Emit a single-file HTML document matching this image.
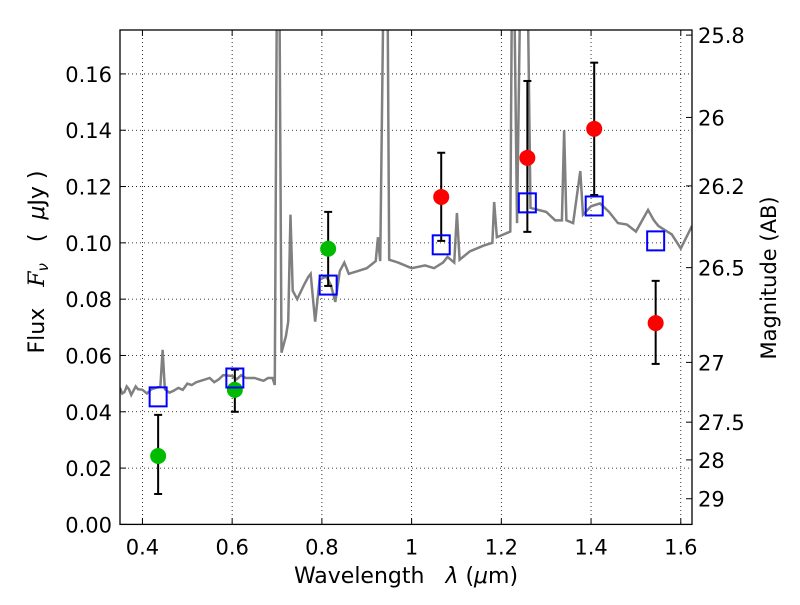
<!DOCTYPE html>
<html><head><meta charset="utf-8"><style>
body{margin:0;background:#fff}
svg text{font-family:"DejaVu Sans","Liberation Sans",sans-serif;fill:#000}
</style></head><body>
<svg id="c" width="800" height="600"></svg>
<script>
const specX=[0.35,0.355,0.36,0.365,0.37,0.375,0.38,0.385,0.39,0.40,0.41,0.42,0.43,0.44,0.445,0.45,0.46,0.47,0.48,0.49,0.50,0.51,0.52,0.53,0.55,0.56,0.57,0.58,0.60,0.61,0.62,0.63,0.65,0.66,0.67,0.68,0.69,0.695,0.700,0.705,0.71,0.72,0.725,0.73,0.735,0.745,0.76,0.77,0.775,0.785,0.795,0.81,0.82,0.83,0.84,0.85,0.86,0.88,0.90,0.92,0.925,0.93,0.938,0.942,0.946,0.95,0.97,1.0,1.03,1.05,1.07,1.08,1.095,1.101,1.107,1.13,1.16,1.18,1.184,1.19,1.22,1.224,1.228,1.235,1.243,1.25,1.258,1.265,1.30,1.32,1.335,1.34,1.345,1.36,1.376,1.382,1.40,1.42,1.44,1.46,1.48,1.50,1.527,1.54,1.55,1.58,1.60,1.625];
const specY=[0.0485,0.0465,0.047,0.049,0.048,0.046,0.0475,0.049,0.048,0.0478,0.0465,0.048,0.0485,0.049,0.062,0.048,0.0468,0.0475,0.0485,0.0478,0.050,0.0495,0.0505,0.051,0.052,0.0505,0.0515,0.053,0.0527,0.0515,0.053,0.052,0.052,0.0515,0.051,0.052,0.052,0.0495,0.2,0.2,0.061,0.067,0.072,0.110,0.083,0.080,0.085,0.088,0.089,0.072,0.087,0.088,0.085,0.079,0.090,0.093,0.089,0.090,0.091,0.0935,0.102,0.0935,0.2,0.2,0.2,0.094,0.093,0.091,0.092,0.091,0.093,0.095,0.093,0.1106,0.094,0.097,0.099,0.100,0.1145,0.102,0.104,0.2,0.2,0.107,0.2,0.2,0.2,0.1124,0.111,0.108,0.108,0.140,0.108,0.107,0.1255,0.110,0.113,0.114,0.111,0.107,0.1065,0.104,0.1117,0.108,0.106,0.103,0.098,0.106];
const bandX=[0.435,0.606,0.814,1.066,1.258,1.407,1.544];
const modelF=[0.0453,0.052,0.085,0.0993,0.1142,0.1131,0.1007];
const obsF=[0.0243,0.0478,0.0979,0.1163,0.1302,0.1405,0.0715];
const obsLo=[0.0108,0.040,0.0847,0.1007,0.1039,0.117,0.057];
const obsHi=[0.0389,0.055,0.111,0.132,0.1575,0.164,0.0865];
const obsColor=['#00bb00','#00bb00','#00bb00','#ff0000','#ff0000','#ff0000','#ff0000'];
const xTicks=[0.4,0.6,0.8,1,1.2,1.4,1.6];
const xTickLabels=['0.4','0.6','0.8','1','1.2','1.4','1.6'];
const yTicks=[0,0.02,0.04,0.06,0.08,0.10,0.12,0.14,0.16];
const yTickLabels=['0.00','0.02','0.04','0.06','0.08','0.10','0.12','0.14','0.16'];
const magTicks=[25.8,26,26.2,26.5,27,27.5,28,29];
const magTickLabels=['25.8','26','26.2','26.5','27','27.5','28','29'];

const L=120,R=692,T=30,B=524.4,X0=0.35,X1=1.625,Y0=0,Y1=0.1756;
const sx=v=>L+(v-X0)/(X1-X0)*(R-L);
const sy=v=>B-(v-Y0)/(Y1-Y0)*(B-T);
const NS='http://www.w3.org/2000/svg';
const svg=document.getElementById('c');
function mk(tag,attrs,parent){const e=document.createElementNS(NS,tag);for(const k in attrs)e.setAttribute(k,attrs[k]);(parent||svg).appendChild(e);return e;}
const defs=mk('defs',{});
const cp=mk('clipPath',{id:'clip'},defs);mk('rect',{x:L,y:T,width:R-L,height:B-T},cp);
const grid=mk('g',{});


xTicks.forEach((t,i)=>{const x=sx(t);
 mk('line',{x1:x,x2:x,y1:T,y2:B,stroke:'#000','stroke-width':0.8,'stroke-dasharray':'1,3'},grid);
 mk('line',{x1:x,x2:x,y1:B,y2:B-6,stroke:'#000'},grid);mk('line',{x1:x,x2:x,y1:T,y2:T+6,stroke:'#000'},grid);
 const tx=mk('text',{x:x,y:B+30,'font-size':21,'text-anchor':'middle'});tx.textContent=xTickLabels[i];
 
 
});
yTicks.forEach((t,i)=>{const y=sy(t);
 mk('line',{x1:L,x2:R,y1:y,y2:y,stroke:'#000','stroke-width':0.8,'stroke-dasharray':'1,3'},grid);
 mk('line',{x1:L,x2:L+6,y1:y,y2:y,stroke:'#000'},grid);
 const tx=mk('text',{x:L-8,y:y+8,'font-size':21,'text-anchor':'end'});tx.textContent=yTickLabels[i];
 
 
});
magTicks.forEach((m,i)=>{const f=Math.pow(10,(23.9-m)/2.5);const y=sy(f);
 mk('line',{x1:R,x2:R-6,y1:y,y2:y,stroke:'#000'},grid);
 const tx=mk('text',{x:R+6,y:y+8,'font-size':21});tx.textContent=magTickLabels[i];
 
 
});
const pl=mk('polyline',{points:specX.map((x,i)=>sx(x)+','+sy(specY[i])).join(' '),fill:'none',stroke:'#808080','stroke-width':2.5,'clip-path':'url(#clip)'});


bandX.forEach((b,i)=>{const x=sx(b);
 const e=mk('g',{});
 
 
 mk('line',{x1:x,x2:x,y1:sy(obsLo[i]),y2:sy(obsHi[i]),stroke:'#000','stroke-width':2},e);
 mk('line',{x1:x-4,x2:x+4,y1:sy(obsLo[i]),y2:sy(obsLo[i]),stroke:'#000','stroke-width':2},e);
 mk('line',{x1:x-4,x2:x+4,y1:sy(obsHi[i]),y2:sy(obsHi[i]),stroke:'#000','stroke-width':2},e);
 const c=mk('circle',{cx:x,cy:sy(obsF[i]),r:8,fill:obsColor[i]});
 
 
 const s=mk('rect',{x:x-8.5,y:sy(modelF[i])-9.5,width:17,height:19,fill:'none',stroke:'#0000ff','stroke-width':2});
 
 
});
const fr=mk('rect',{x:L,y:T,width:R-L,height:B-T,fill:'none',stroke:'#000','stroke-width':1.3});


</script>
<svg width="800" height="600" style="position:absolute;left:0;top:0">
<text x="406" y="583" font-size="22" text-anchor="middle" xml:space="preserve" style="font-family:'DejaVu Sans',sans-serif">Wavelength   <tspan font-style="italic">λ</tspan> (<tspan font-style="italic">μ</tspan>m)</text>
<text transform="translate(44,262) rotate(-90)" font-size="22" text-anchor="middle" xml:space="preserve" style="font-family:'DejaVu Sans',sans-serif">Flux   <tspan font-style="italic" font-family="'DejaVu Serif',serif">F</tspan><tspan font-size="15" dy="4" font-style="italic">ν</tspan><tspan dy="-4">   (  <tspan font-style="italic">μ</tspan>Jy )</tspan></text>
<text transform="translate(776,278) rotate(-90)" font-size="21" text-anchor="middle" style="font-family:'DejaVu Sans',sans-serif">Magnitude (AB)</text>
</svg>
</body></html>
